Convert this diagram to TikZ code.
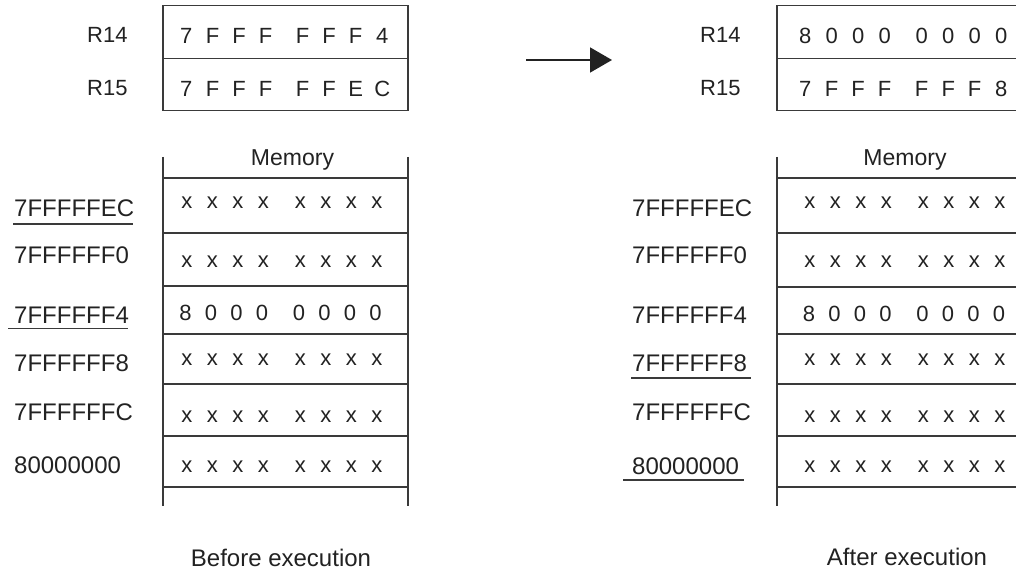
\documentclass[tikz,border=0pt]{standalone}
\usepackage{fontspec}
\setmainfont{Liberation Sans}
\usetikzlibrary{arrows.meta}
\definecolor{ink}{HTML}{222222}
\definecolor{rule}{HTML}{3A3A3A}
\newlength\mypitch
\newlength\mygap
\newcommand\cellch[1]{\makebox[\mypitch][c]{#1}}
\newcommand\hexgroup[4]{\cellch{#1}\cellch{#2}\cellch{#3}\cellch{#4}}
\newcommand\hexrow[8]{\hexgroup{#1}{#2}{#3}{#4}\hspace{\mygap}\hexgroup{#5}{#6}{#7}{#8}}
\newcommand\regval[8]{\setlength\mypitch{26.5pt}\setlength\mygap{10.5pt}\hexrow{#1}{#2}{#3}{#4}{#5}{#6}{#7}{#8}}
\newcommand\memval[8]{\setlength\mypitch{25.5pt}\setlength\mygap{11.5pt}\hexrow{#1}{#2}{#3}{#4}{#5}{#6}{#7}{#8}}
\begin{document}
\begin{tikzpicture}[x=1pt,y=-1pt,
  txt/.style={inner sep=0pt,anchor=base west,text=ink,font=\fontsize{22}{22}\selectfont},
  addr/.style={inner sep=0pt,anchor=base west,text=ink,font=\fontsize{24}{24}\selectfont},
  captxt/.style={inner sep=0pt,anchor=base,text=ink,font=\fontsize{24}{24}\selectfont},
  memlab/.style={inner sep=0pt,anchor=base,text=ink,font=\fontsize{23}{23}\selectfont},
  regbox/.style={draw=rule,line width=1.2pt,minimum width=245pt,minimum height=52.5pt,inner sep=0pt},
  ln/.style={draw=rule,line width=1.2pt},
  uline/.style={draw=rule,line width=1.1pt}]
\clip (0,0) rectangle (1016,572);
\fill[white] (0,0) rectangle (1016,572);

% ---------- BEFORE ----------
\node[regbox] (lr14box) at (285.5,32) {};
\node[regbox] (lr15box) at (285.5,84.5) {};
\node[txt] (lr14) at (87,43) {R14};
\node[txt] (lr15) at (87,96) {R15};
\node[txt] (lv14) at (172.75,44) {\regval{7}{F}{F}{F}{F}{F}{F}{4}};
\node[txt] (lv15) at (172.75,97) {\regval{7}{F}{F}{F}{F}{F}{E}{C}};

\draw[ln] (163,157) -- (163,506);
\draw[ln] (408,157) -- (408,506);
\foreach \yy in {178,233,286,334,384,436,487} \draw[ln] (163,\yy) -- (408,\yy);
\node[memlab] (lmem) at (292.5,165) {Memory};
\node[txt] (lm1) at (174,208) {\memval{x}{x}{x}{x}{x}{x}{x}{x}};
\node[txt] (lm2) at (174,267) {\memval{x}{x}{x}{x}{x}{x}{x}{x}};
\node[txt] (lm3) at (172.5,320) {\memval{8}{0}{0}{0}{0}{0}{0}{0}};
\node[txt] (lm4) at (174,365) {\memval{x}{x}{x}{x}{x}{x}{x}{x}};
\node[txt] (lm5) at (174,422) {\memval{x}{x}{x}{x}{x}{x}{x}{x}};
\node[txt] (lm6) at (174,472) {\memval{x}{x}{x}{x}{x}{x}{x}{x}};

\node[addr] (la1) at (14,216) {7FFFFFEC};
\node[addr] (la2) at (14,263) {7FFFFFF0};
\node[addr] (la3) at (14,323) {7FFFFFF4};
\node[addr] (la4) at (14,371) {7FFFFFF8};
\node[addr] (la5) at (14,420) {7FFFFFFC};
\node[addr] (la6) at (14,473) {80000000};
\draw[uline] (13,224) -- (133,224);
\draw[uline] (8,328.5) -- (128,328.5);

\node[captxt] (before) at (281,566) {Before execution};

% ---------- ARROW ----------
\coordinate (as) at (526,60);
\coordinate (ae) at (612,60);
\draw[draw=ink,line width=1.6pt,-{Triangle[length=22pt,width=25pt]}] (as) -- (ae);

% ---------- AFTER ----------
\node[regbox] (rr14box) at (899.5,32) {};
\node[regbox] (rr15box) at (899.5,84.5) {};
\node[txt] (rr14) at (700,43) {R14};
\node[txt] (rr15) at (700,96) {R15};
\node[txt] (rv14) at (791.75,44) {\regval{8}{0}{0}{0}{0}{0}{0}{0}};
\node[txt] (rv15) at (791.75,97) {\regval{7}{F}{F}{F}{F}{F}{F}{8}};

\draw[ln] (777,157) -- (777,506);
\draw[ln] (1022,157) -- (1022,506);
\foreach \yy in {178,233,287,334,384,436,487} \draw[ln] (777,\yy) -- (1022,\yy);
\node[memlab] (rmem) at (905,165) {Memory};
\node[txt] (rm1) at (797,208) {\memval{x}{x}{x}{x}{x}{x}{x}{x}};
\node[txt] (rm2) at (797,267) {\memval{x}{x}{x}{x}{x}{x}{x}{x}};
\node[txt] (rm3) at (796,321) {\memval{8}{0}{0}{0}{0}{0}{0}{0}};
\node[txt] (rm4) at (797,365) {\memval{x}{x}{x}{x}{x}{x}{x}{x}};
\node[txt] (rm5) at (797,422) {\memval{x}{x}{x}{x}{x}{x}{x}{x}};
\node[txt] (rm6) at (797,472) {\memval{x}{x}{x}{x}{x}{x}{x}{x}};

\node[addr] (ra1) at (632,216) {7FFFFFEC};
\node[addr] (ra2) at (632,263) {7FFFFFF0};
\node[addr] (ra3) at (632,323) {7FFFFFF4};
\node[addr] (ra4) at (632,371) {7FFFFFF8};
\node[addr] (ra5) at (632,420) {7FFFFFFC};
\node[addr] (ra6) at (632,474) {80000000};
\draw[uline] (631,378) -- (751,378);
\draw[uline] (623,480) -- (744,480);

\node[captxt] (after) at (907,565) {After execution};
\end{tikzpicture}
\end{document}
